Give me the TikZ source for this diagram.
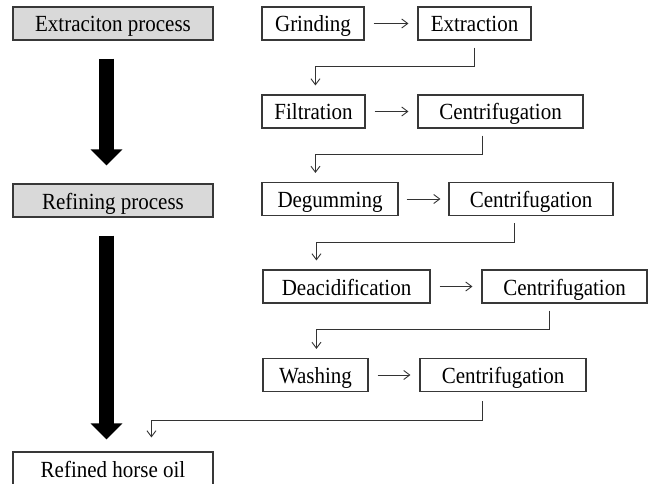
\documentclass[tikz,border=0pt]{standalone}
\usepackage{fontspec}
\setmainfont{Liberation Serif}
\usetikzlibrary{arrows.meta}
\newcommand{\tallt}[1]{\scalebox{1}[1.1]{#1}}
\begin{document}
\begin{tikzpicture}[x=1pt,y=-1pt,
  box/.style={draw=black!78, line width=1.1pt, minimum height=33pt, inner sep=0pt,
    text height=17.5pt, text depth=0.5pt,
    font=\fontsize{21}{24}\selectfont, text=black},
  stagebox/.style={box, fill=black!15, minimum width=200pt},
  conn/.style={draw=black!80, line width=0.9pt, -{Straight Barb[length=6pt,width=9pt]}},
  bigarrow/.style={draw=black, line width=15pt, -{Triangle[width=31pt,length=16pt]}}]
\useasboundingbox (0,0) rectangle (653,484);
% left column
\node[stagebox] (ext) at (113,23.5) {\tallt{Extraciton process}};
\node[stagebox] (ref) at (113,200.5) {\tallt{Refining process}};
\node[box, minimum width=200pt] (oil) at (113,468.5) {\tallt{Refined horse oil}};
% right steps
\node[box, minimum width=102pt] (grind) at (313,23.5) {\tallt{Grinding}};
\node[box, minimum width=113pt] (extr) at (474.5,23.5) {\tallt{Extraction}};
\node[box, minimum width=103pt] (filt) at (313.5,111.5) {\tallt{Filtration}};
\node[box, minimum width=165pt] (cen1) at (500.5,111.5) {\tallt{Centrifugation}};
\node[box, minimum width=136pt] (deg) at (330,199) {\tallt{Degumming}};
\node[box, minimum width=164pt] (cen2) at (531,199) {\tallt{Centrifugation}};
\node[box, minimum width=167pt] (deac) at (346.5,286.5) {\tallt{Deacidification}};
\node[box, minimum width=165pt] (cen3) at (564.5,286.5) {\tallt{Centrifugation}};
\node[box, minimum width=105pt] (wash) at (315.5,375) {\tallt{Washing}};
\node[box, minimum width=166pt] (cen4) at (503,375) {\tallt{Centrifugation}};
% big arrows
\draw[bigarrow] ([xshift=-6.5pt,yshift=-18pt]ext.south) -- ([xshift=-6.5pt,yshift=18pt]ref.north);
\draw[bigarrow] ([xshift=-6.5pt,yshift=-18pt]ref.south) -- ([xshift=-6.5pt,yshift=12pt]oil.north);
% horizontal arrows
\draw[conn, shorten <=9pt, shorten >=9pt] (grind.east) -- (extr.west);
\draw[conn, shorten <=9pt, shorten >=9pt] (filt.east) -- (cen1.west);
\draw[conn, shorten <=8pt, shorten >=8pt] (deg.east) -- (cen2.west);
\draw[conn, shorten <=9pt, shorten >=9pt] (deac.east) -- (cen3.west);
\draw[conn, shorten <=9pt, shorten >=9pt] (wash.east) -- (cen4.west);
% elbow connectors
\draw[conn] ([yshift=-7pt]extr.south) -- ++(0,19) -| ([xshift=54pt,yshift=9pt]filt.north west);
\draw[conn] ([xshift=65pt,yshift=-7pt]cen1.south west) -- ++(0,19) -| ([xshift=54pt,yshift=9pt]deg.north west);
\draw[conn] ([xshift=66pt,yshift=-7pt]cen2.south west) -- ++(0,19) -| ([xshift=54pt,yshift=9pt]deac.north west);
\draw[conn] ([xshift=68pt,yshift=-7pt]cen3.south west) -- ++(0,19) -| ([xshift=54pt,yshift=9pt]wash.north west);
\draw[conn] ([xshift=63pt,yshift=-9pt]cen4.south west) -- ++(0,19) -| ([xshift=139pt,yshift=14pt]oil.north west);
\end{tikzpicture}
\end{document}
